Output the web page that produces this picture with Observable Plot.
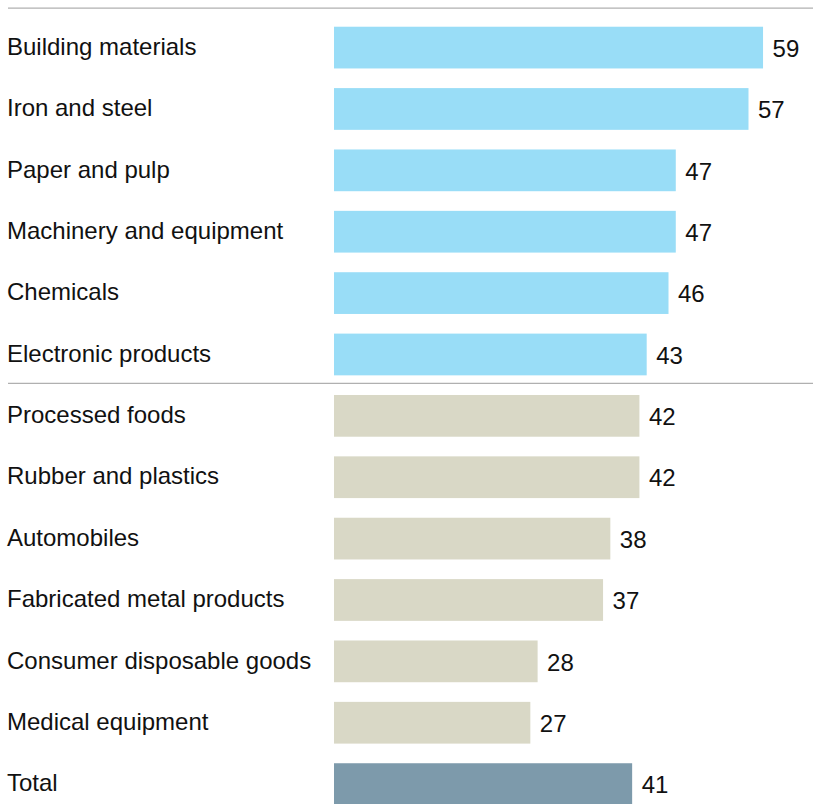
<!DOCTYPE html>
<html><head><meta charset="utf-8">
<script src="https://cdn.jsdelivr.net/npm/d3@7"></script>
<script src="https://cdn.jsdelivr.net/npm/@observablehq/plot@0.6"></script>
<style>
  html, body { margin: 0; padding: 0; background: #fff; }
  #chart svg { display: block; }
</style>
</head><body><div id="chart"></div>
<script>
const categories = [
  "Building materials", "Iron and steel", "Paper and pulp", "Machinery and equipment",
  "Chemicals", "Electronic products", "Processed foods", "Rubber and plastics",
  "Automobiles", "Fabricated metal products", "Consumer disposable goods",
  "Medical equipment", "Total"
];
const values = [59, 57, 47, 47, 46, 43, 42, 42, 38, 37, 28, 27, 41];
const groups = ["high", "high", "high", "high", "high", "high",
  "low", "low", "low", "low", "low", "low", "total"];
const groupNames = ["high", "low", "total"];
const groupColors = ["#99ddf7", "#d9d8c6", "#7d9aab"];

const data = categories.map((c, i) => ({category: c, value: values[i], group: groups[i]}));

const chart = Plot.plot({
  width: 813,
  height: 804,
  marginLeft: 8,
  marginRight: 0,
  marginTop: 8,
  marginBottom: 0,
  style: {fontFamily: "'Liberation Sans', Arial, sans-serif", fontSize: "24px", background: "#fff"},
  x: {domain: [-44.83, 65.87], axis: null},
  y: {domain: categories, range: [8, 823.7], paddingInner: 0.32, paddingOuter: 0.305, round: false, axis: null},
  color: {domain: groupNames, range: groupColors},
  marks: [
    Plot.ruleY([categories[0]], {stroke: "#b0b0b0", strokeWidth: 1.3, dy: -40}),
    Plot.ruleY([categories[6]], {stroke: "#b0b0b0", strokeWidth: 1.3, dy: -32.9}),
    Plot.barX(data, {x: "value", y: "category", fill: "group"}),
    Plot.text(data, {x: "value", y: "category", text: d => String(d.value),
      textAnchor: "start", dx: 9, dy: 1, fontSize: 24, fill: "#111"}),
    Plot.text(data, {y: "category", text: "category", frameAnchor: "left",
      textAnchor: "start", dx: -1.5, dy: -1, fontSize: 24, fill: "#111"})
  ]
});
document.getElementById("chart").appendChild(chart);
</script>
</body></html>
